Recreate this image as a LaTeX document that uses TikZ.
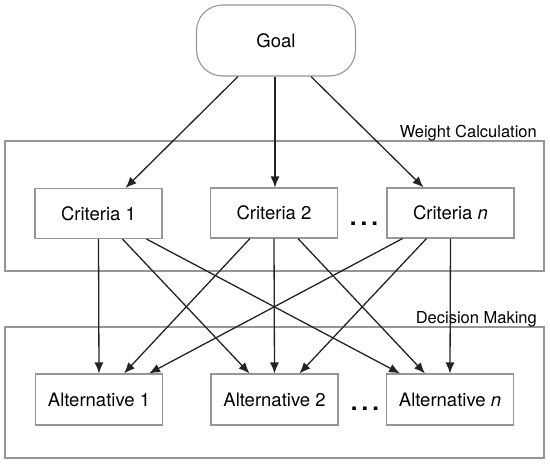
\documentclass[tikz,border=0pt]{standalone}
\usepackage{fontspec}
\setmainfont{TeX Gyre Heros}
\usetikzlibrary{positioning, arrows.meta}
\usepackage{xcolor}

\definecolor{boxgray}{RGB}{150,150,150}
\definecolor{linedark}{RGB}{35,35,35}

\begin{document}
\begin{tikzpicture}[
    x=1pt, y=-1pt,
    crit/.style={rectangle, draw=boxgray, fill=white, line width=1.1pt, minimum width=127pt, minimum height=50pt, inner sep=0pt, font=\fontsize{18.5}{22}\selectfont},
    alt/.style={crit, minimum height=51pt},
    goalbox/.style={crit, rounded corners=26pt, minimum width=159pt, minimum height=71pt},
    frame/.style={rectangle, draw=boxgray, line width=1.1pt, inner sep=0pt},
    framelabel/.style={anchor=base east, inner sep=0pt, font=\fontsize{16.5}{19}\selectfont},
    dots/.style={anchor=base, inner sep=0pt, font=\fontsize{24}{28}\selectfont\bfseries},
    arr/.style={draw=linedark, line width=1.3pt, -{Latex[length=11pt, width=9pt]}}
]
    \useasboundingbox (0,0) rectangle (550,464);

    % Grupos
    \node[frame, minimum width=539pt, minimum height=130pt] (wc) at (274.5,206) {};
    \node[frame, minimum width=539pt, minimum height=131pt] (dm) at (274.5,392.5) {};
    \node[framelabel] (wclabel) at (537,137) {Weight Calculation};
    \node[framelabel] (dmlabel) at (537,323.5) {Decision Making};

    % Objetivo
    \node[goalbox] (goal) at (276,40.5) {Goal};

    % Criterios
    \node[crit] (c1) at (98.5,213.5) {Criteria 1};
    \node[crit] (c2) at (274,213) {Criteria 2};
    \node[crit] (cn) at (450.5,213) {Criteria \textit{n}};
    \node[dots] (cdots) at (364,225) {.\hspace{4pt}.\hspace{4pt}.};

    % Alternativas
    \node[alt] (a1) at (99,399.5) {Alternative 1};
    \node[alt] (a2) at (274.5,399.5) {Alternative 2};
    \node[alt] (an) at (450,399.5) {Alternative \textit{n}};
    \node[dots] (adots) at (365,410) {.\hspace{4pt}.\hspace{4pt}.};

    % Arestas
    \draw[arr] ([xshift=-38pt]goal.south) -- ([xshift=27pt]c1.north);
    \draw[arr] ([xshift=-1pt]goal.south) -- ([xshift=1pt]c2.north);
    \draw[arr] ([xshift=35pt]goal.south) -- ([xshift=-27pt]cn.north);

    \draw[arr] (c1.south) -- (a1.north);
    \draw[arr] ([xshift=24pt]c1.south) -- ([xshift=-25pt]a2.north);
    \draw[arr] ([xshift=48pt]c1.south) -- ([xshift=-50pt]an.north);

    \draw[arr] ([xshift=-24pt]c2.south) -- ([xshift=25pt]a1.north);
    \draw[arr] (c2.south) -- (a2.north);
    \draw[arr] ([xshift=24pt]c2.south) -- ([xshift=-25pt]an.north);

    \draw[arr] ([xshift=-48pt]cn.south) -- ([xshift=50pt]a1.north);
    \draw[arr] ([xshift=-24pt]cn.south) -- ([xshift=25pt]a2.north);
    \draw[arr] (cn.south) -- (an.north);
\end{tikzpicture}
\end{document}
